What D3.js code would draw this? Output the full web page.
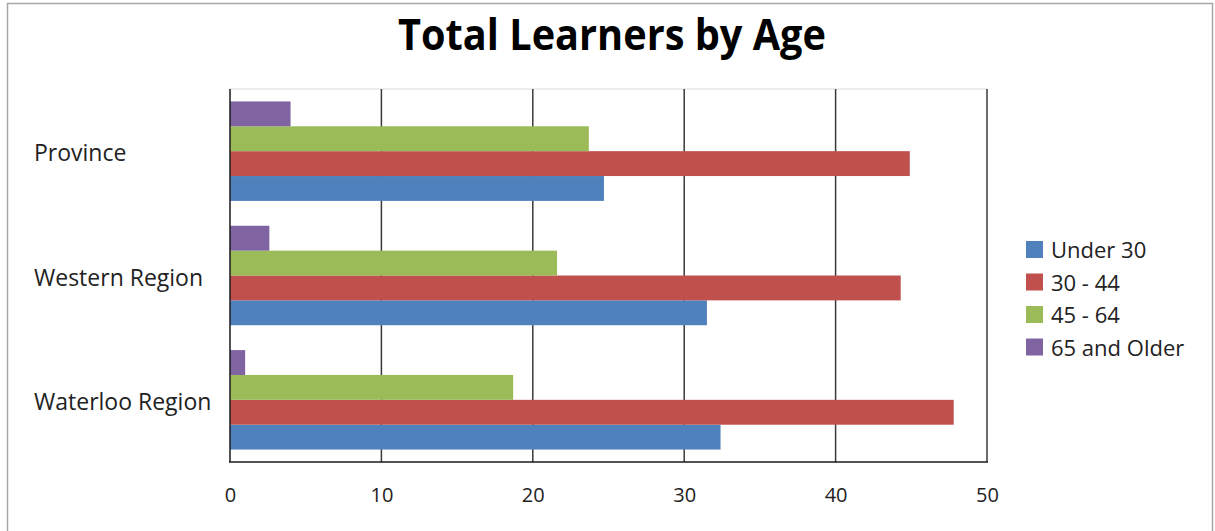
<!DOCTYPE html>
<html>
<head>
<meta charset="utf-8">
<script src="https://cdn.jsdelivr.net/npm/d3@7"></script>
<style>
  html, body { margin: 0; padding: 0; background: #fff; }
  svg { display: block; }
</style>
</head>
<body>
<div id="chart"></div>
<script>
const categories = ["Province", "Western Region", "Waterloo Region"];
const seriesNames = ["Under 30", "30 - 44", "45 - 64", "65 and Older"];
const under30 = [24.7, 31.5, 32.4];
const age30to44 = [44.9, 44.3, 47.8];
const age45to64 = [23.7, 21.6, 18.7];
const age65plus = [4.0, 2.6, 1.0];
const xTicks = [0, 10, 20, 30, 40, 50];
const colors = ["#4F81BD", "#C0504D", "#9BBB59", "#8064A2"];

const seriesValues = [under30, age30to44, age45to64, age65plus];

const W = 1215, H = 531;
const FONT = "'Open Sans', sans-serif";
const svg = d3.select("#chart").append("svg").attr("width", W).attr("height", H);

// outer frame
svg.append("rect").attr("x", 7.5).attr("y", 3.5).attr("width", 1205).attr("height", 540)
  .attr("fill", "#fff").attr("stroke", "#a6a6a6").attr("stroke-width", 1.5);

const plot = { left: 230, right: 987, top: 89, bottom: 462 };

const x = d3.scaleLinear().domain([0, 50]).range([plot.left, plot.right]);
const y = d3.scaleBand().domain(categories).range([plot.top, plot.bottom])
  .paddingInner(0.2).paddingOuter(0.1);
// inner band: top to bottom = 65+, 45-64, 30-44, Under 30
const yInner = d3.scaleBand().domain(seriesNames.slice().reverse()).range([0, y.bandwidth()]);

// plot area top border (light)
svg.append("line").attr("x1", plot.left).attr("x2", plot.right).attr("y1", plot.top).attr("y2", plot.top)
  .attr("stroke", "#d9d9d9").attr("stroke-width", 1);

// gridlines
svg.append("g").selectAll("line").data(xTicks.filter(t => t > 0)).join("line")
  .attr("x1", d => x(d)).attr("x2", d => x(d))
  .attr("y1", plot.top).attr("y2", plot.bottom)
  .attr("stroke", "#3a3a3a").attr("stroke-width", 1.5);

// bars
const g = svg.append("g");
seriesNames.forEach((name, si) => {
  g.append("g").selectAll("rect").data(categories).join("rect")
    .attr("x", x(0))
    .attr("y", (c) => y(c) + yInner(name))
    .attr("width", (c, i) => x(seriesValues[si][i]) - x(0))
    .attr("height", yInner.bandwidth())
    .attr("fill", colors[si]);
});

// axes lines
svg.append("line").attr("x1", plot.left).attr("x2", plot.left).attr("y1", plot.top).attr("y2", plot.bottom)
  .attr("stroke", "#1a1a1a").attr("stroke-width", 1.5);
svg.append("line").attr("x1", plot.left - 1).attr("x2", plot.right + 1).attr("y1", plot.bottom).attr("y2", plot.bottom)
  .attr("stroke", "#1a1a1a").attr("stroke-width", 1.5);

// x tick labels
const xAxis = d3.axisBottom(x).tickValues(xTicks).tickSize(0).tickPadding(0);
const xg = svg.append("g").attr("transform", `translate(0,${plot.bottom + 40})`).call(xAxis);
xg.select(".domain").remove();
xg.selectAll("text").attr("font-family", FONT).attr("font-size", 20)
  .attr("fill", "#222").attr("dy", 0);

// y category labels
svg.append("g").selectAll("text").data(categories).join("text")
  .attr("x", 34).attr("y", c => y(c) + y.bandwidth() / 2 + 10)
  .attr("font-family", FONT).attr("font-size", 23).attr("fill", "#222")
  .text(d => d);

// title
svg.append("text").attr("x", 612).attr("y", 50).attr("text-anchor", "middle")
  .attr("font-family", FONT).attr("font-weight", "bold").attr("font-size", 43)
  .attr("textLength", 428).attr("lengthAdjust", "spacingAndGlyphs")
  .attr("fill", "#000").text("Total Learners by Age");

// legend
const lg = svg.append("g").attr("transform", "translate(1026,241)");
const items = lg.selectAll("g").data(seriesNames).join("g")
  .attr("transform", (d, i) => `translate(0,${i * 32.5})`);
items.append("rect").attr("width", 17).attr("height", 17).attr("fill", (d, i) => colors[i]);
items.append("text").attr("x", 25).attr("y", 17)
  .attr("font-family", FONT).attr("font-size", 22).attr("fill", "#222")
  .text(d => d);
</script>
</body>
</html>
